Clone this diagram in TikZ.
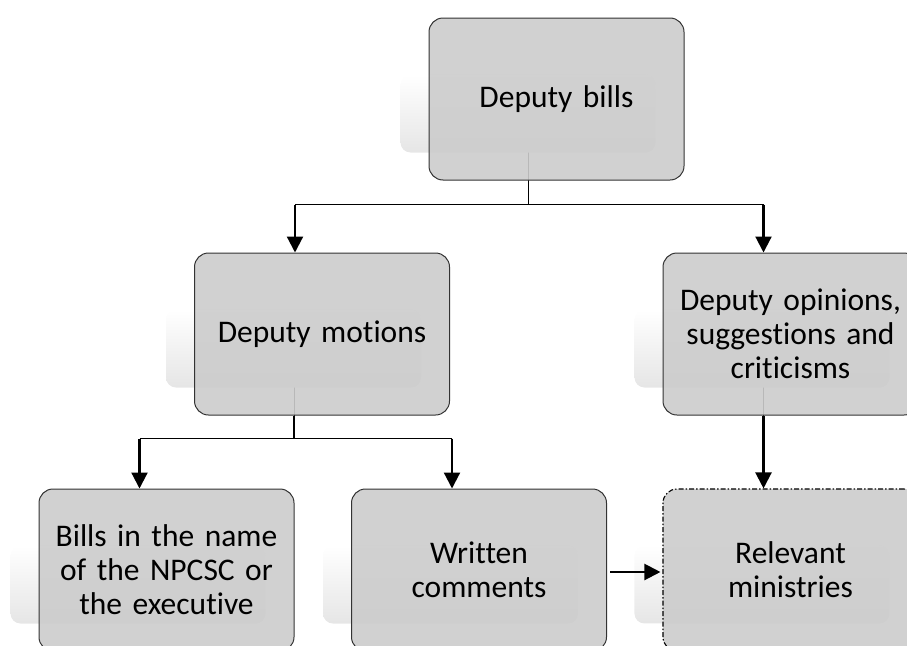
\documentclass[tikz,border=0pt]{standalone}
\usepackage{fontspec}
\setmainfont[Ligatures={NoCommon}]{Carlito}
\usetikzlibrary{arrows.meta,calc,backgrounds}
\tikzset{
  box/.style={draw=black!80, line width=1pt, fill=black!20, fill opacity=0.9, text opacity=1,
    rounded corners=14pt, minimum width=255pt, minimum height=162pt, inner sep=0pt,
    align=center, font=\fontsize{31.5}{34}\selectfont, text width=250pt},
  dashbox/.style={box, draw=black, dash pattern=on 5pt off 2pt on 1.5pt off 2pt, line width=1.1pt},
  bar/.style={line width=1.2pt},
  stem/.style={line width=1.2pt},
  faint/.style={line width=1pt},
  arr/.style={line width=2.2pt, -{Triangle[length=16pt,width=16pt]}},
  shad/.style={top color=white, bottom color=black!10, draw=none, rounded corners=10pt}
}
\begin{document}
\begin{tikzpicture}[x=1pt,y=-1pt]
\useasboundingbox (0,0) rectangle (907,645);
\clip (0,0) rectangle (907,645);
\node[box] (top) at (556.5,99) {Deputy bills};
\node[box] (ml) at (322,334) {Deputy motions};
\node[box] (mr) at (790.5,334) {Deputy opinions,\\suggestions and\\criticisms};
\node[box] (bl) at (166.5,570) {Bills in the name\\of the NPCSC or\\the executive};
\node[box] (bm) at (479,570) {Written\\comments};
\node[dashbox] (br) at (790.5,570) {Relevant\\ministries};
% attachment points at the shadow centres
\coordinate (tS) at ($(top.south)+(-28,0)$);
\coordinate (tC) at ($(top.center)+(-28,0)$);
\coordinate (mlN) at ($(ml.north)+(-27,0)$);
\coordinate (mlS) at ($(ml.south)+(-28,0)$);
\coordinate (mlC) at ($(ml.center)+(-28,0)$);
\coordinate (mrN) at ($(mr.north)+(-27,0)$);
\coordinate (mrS) at ($(mr.south)+(-27,0)$);
\coordinate (mrC) at ($(mr.center)+(-27,0)$);
\coordinate (blN) at ($(bl.north)+(-27,0)$);
\coordinate (bmN) at ($(bm.north)+(-27,0)$);
\coordinate (brN) at ($(br.north)+(-27,0)$);
\coordinate (j1) at ($(tS)+(0,24)$);
\coordinate (j2) at ($(mlS)+(0,23)$);
\begin{pgfonlayer}{background}
  \draw[faint] (tC) -- (tS);
  \draw[faint] (mlC) -- (mlS);
  \draw[faint] (mrC) -- (mrS);
  \foreach \n in {top,ml,mr,bl,bm,br}{
    \path[shad] ($(\n.north west)+(-28,57)$) rectangle ($(\n.north west)+(227,135)$);
  }
\end{pgfonlayer}
\draw[stem] (tS) -- (j1);
\draw[bar] (mlN |- j1) -- (mrN |- j1);
\draw[arr] (mlN |- j1) -- (mlN);
\draw[arr] (mrN |- j1) -- (mrN);
\draw[stem] (mlS) -- (j2);
\draw[bar] (blN |- j2) -- (bmN |- j2);
\draw[arr] (blN |- j2) -- (blN);
\draw[arr] (bmN |- j2) -- (bmN);
\draw[arr] (mrS) -- (brN);
\draw[arr] ($(bm.east)+(3,2)$) -- ($(br.west)+(-2,2)$);
\end{tikzpicture}
\end{document}
